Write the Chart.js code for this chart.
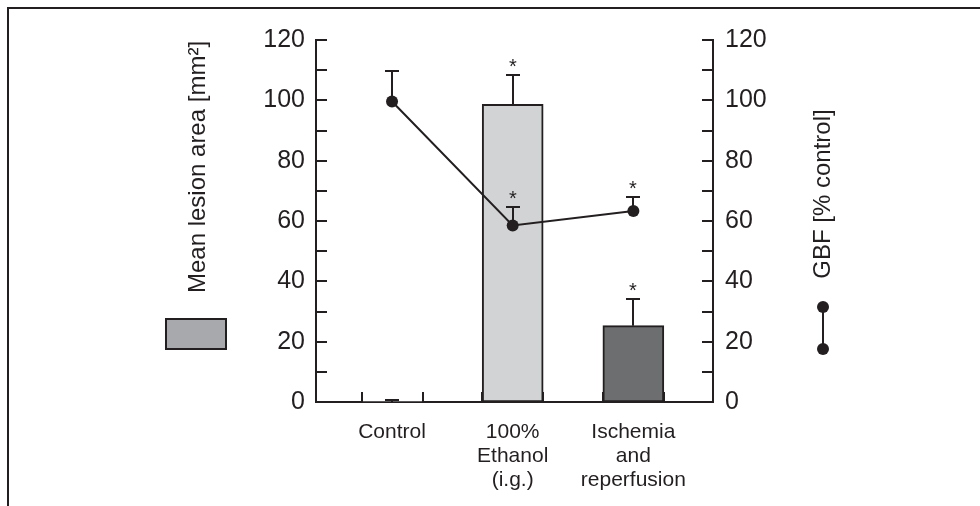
<!DOCTYPE html>
<html><head><meta charset="utf-8">
<script src="https://cdn.jsdelivr.net/npm/chart.js@4/dist/chart.umd.min.js"></script>
<style>
html,body{margin:0;padding:0;background:#fff;}
#wrap{position:relative;width:980px;height:506px;overflow:hidden;}
#frame{position:absolute;left:7px;top:7px;width:1000px;height:520px;border-top:2px solid #231f20;border-left:2px solid #231f20;pointer-events:none;}
</style></head><body>
<div id="wrap"><canvas id="c" width="980" height="506"></canvas><div id="frame"></div></div>
<script>
// ---- data ----
const categories = ['Control', '100% Ethanol (i.g.)', 'Ischemia and reperfusion'];
const categoryLabelLines = [['Control'], ['100%', 'Ethanol', '(i.g.)'], ['Ischemia', 'and', 'reperfusion']];
const lesionArea = [0, 98.7, 25.3];          // Mean lesion area [mm²]
const lesionAreaErr = [0.7, 9.7, 8.8];
const lesionSignificant = [false, true, true];
const gbf = [99.6, 58.5, 63.3];              // GBF [% control]
const gbfErr = [10.1, 6.0, 4.7];
const gbfSignificant = [false, true, true];
const yTickLabels = [0, 20, 40, 60, 80, 100, 120];
const leftTitle = 'Mean lesion area [mm²]';
const rightTitle = 'GBF [% control]';

// ---- styles ----
const INK = '#231f20';
const FONT = "'Liberation Sans', Arial, Helvetica, sans-serif";
const barColors = ['#ffffff', '#d1d3d4', '#6d6e70'];
const BAR_W = 61;

const deco = {
  id: 'deco',
  afterDatasetsDraw(chart) {
    const ctx = chart.ctx;
    const xs = chart.scales.x;
    ctx.save();
    ctx.strokeStyle = INK; ctx.fillStyle = INK; ctx.lineWidth = 2;
    const drawErr = (scale, means, errs, sig) => {
      means.forEach((m, i) => {
        const px = Math.round(xs.getPixelForValue(i + 1));
        const y0 = scale.getPixelForValue(m);
        const y1 = Math.round(scale.getPixelForValue(m + errs[i]));
        ctx.beginPath();
        ctx.moveTo(px, y0); ctx.lineTo(px, y1);
        ctx.moveTo(px - 7, y1); ctx.lineTo(px + 7, y1);
        ctx.stroke();
        if (sig[i]) {
          ctx.font = '20px ' + FONT;
          ctx.textAlign = 'center'; ctx.textBaseline = 'alphabetic';
          ctx.fillText('*', px, y1 - 2);
        }
      });
    };
    drawErr(chart.scales.y, lesionArea, lesionAreaErr, lesionSignificant);
    drawErr(chart.scales.y2, gbf, gbfErr, gbfSignificant);
    ctx.restore();
  },
  afterDraw(chart) {
    const ctx = chart.ctx;
    const ca = chart.chartArea;
    const xs = chart.scales.x;
    ctx.save();
    ctx.strokeStyle = INK; ctx.fillStyle = INK; ctx.lineWidth = 2;
    // inward y ticks
    ctx.beginPath();
    chart.scales.y.ticks.forEach(t => {
      const py = Math.round(chart.scales.y.getPixelForValue(t.value));
      ctx.moveTo(ca.left, py); ctx.lineTo(ca.left + 11, py);
    });
    chart.scales.y2.ticks.forEach(t => {
      const py = Math.round(chart.scales.y2.getPixelForValue(t.value));
      ctx.moveTo(ca.right, py); ctx.lineTo(ca.right - 11, py);
    });
    // inward x ticks at bar edges
    categories.forEach((c, i) => {
      const px = xs.getPixelForValue(i + 1);
      [px - BAR_W / 2, px + BAR_W / 2].forEach(ex => {
        ex = Math.round(ex);
        ctx.moveTo(ex, ca.bottom); ctx.lineTo(ex, ca.bottom - 10);
      });
    });
    ctx.stroke();
    // axis titles
    ctx.font = '24px ' + FONT;
    ctx.textAlign = 'center'; ctx.textBaseline = 'middle';
    ctx.save(); ctx.translate(198, 167); ctx.rotate(-Math.PI / 2); ctx.fillText(leftTitle, 0, 0); ctx.restore();
    ctx.save(); ctx.translate(823, 194); ctx.rotate(-Math.PI / 2); ctx.fillText(rightTitle, 0, 0); ctx.restore();
    // legend keys
    ctx.fillStyle = '#a7a9ac';
    ctx.fillRect(166, 319, 60, 30);
    ctx.strokeRect(166, 319, 60, 30);
    ctx.fillStyle = INK;
    ctx.beginPath(); ctx.moveTo(823, 307); ctx.lineTo(823, 349); ctx.stroke();
    [307, 349].forEach(cy => { ctx.beginPath(); ctx.arc(823, cy, 6, 0, Math.PI * 2); ctx.fill(); });
    ctx.restore();
  }
};

const axisFont = { family: FONT, size: 25 };
new Chart(document.getElementById('c'), {
  type: 'bar',
  data: {
    datasets: [
      {
        type: 'line', label: rightTitle, yAxisID: 'y2', order: 0,
        data: gbf.map((v, i) => ({ x: i + 1, y: v })),
        borderColor: INK, borderWidth: 2,
        pointRadius: 6, pointBackgroundColor: INK, pointBorderWidth: 0,
        tension: 0
      },
      {
        type: 'bar', label: leftTitle, yAxisID: 'y', order: 1,
        data: lesionArea.map((v, i) => ({ x: i + 1, y: v })),
        backgroundColor: barColors,
        borderColor: INK,
        borderWidth: ctx => (ctx.raw && ctx.raw.y > 0 ? 2 : 0),
        borderSkipped: false,
        barThickness: BAR_W
      }
    ]
  },
  options: {
    responsive: false, animation: false,
    layout: { padding: { top: 40, left: 0, right: 0, bottom: 0 } },
    plugins: { legend: { display: false }, tooltip: { enabled: false } },
    scales: {
      x: {
        type: 'linear', min: 0.37, max: 3.66, offset: false,
        afterBuildTicks: s => { s.ticks = categories.map((c, i) => ({ value: i + 1 })); },
        afterFit: s => { s.height = 104; },
        grid: { display: false, drawTicks: false, offset: false },
        border: { display: true, color: INK, width: 2 },
        ticks: {
          autoSkip: false, maxRotation: 0, padding: 18, color: INK,
          font: { family: FONT, size: 21, lineHeight: 24 / 21 },
          callback: v => categoryLabelLines[Math.round(v) - 1] || ''
        }
      },
      y: {
        position: 'left', min: 0, max: 120,
        afterFit: s => { s.width = 316; },
        grid: { display: false, drawTicks: false },
        border: { display: true, color: INK, width: 2 },
        ticks: {
          stepSize: 10, autoSkip: false, padding: 11, color: INK, font: axisFont,
          callback: v => (yTickLabels.includes(v) ? String(v) : '')
        }
      },
      y2: {
        position: 'right', min: 0, max: 120,
        afterFit: s => { s.width = 267; },
        grid: { display: false, drawTicks: false },
        border: { display: true, color: INK, width: 2 },
        ticks: {
          stepSize: 10, autoSkip: false, padding: 12, color: INK, font: axisFont,
          callback: v => (yTickLabels.includes(v) ? String(v) : '')
        }
      }
    }
  },
  plugins: [deco]
});
</script>
</body></html>
